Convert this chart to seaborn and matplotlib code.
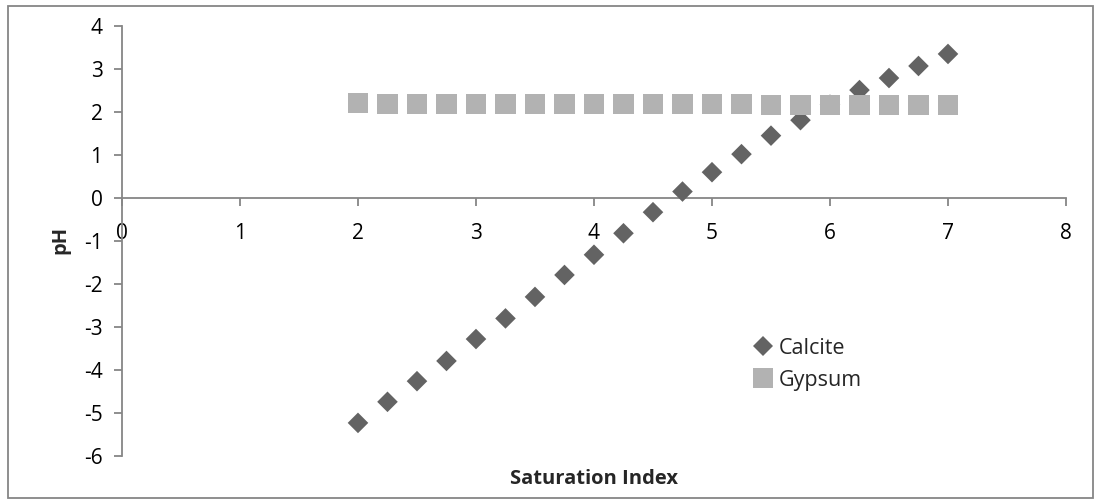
import numpy as np
import pandas as pd
import seaborn as sns
import matplotlib.pyplot as plt
from matplotlib.patches import Rectangle

# data
si = [2, 2.25, 2.5, 2.75, 3, 3.25, 3.5, 3.75, 4, 4.25, 4.5,
      4.75, 5, 5.25, 5.5, 5.75, 6, 6.25, 6.5, 6.75, 7]
calcite = [-5.23, -4.74, -4.26, -3.79, -3.28, -2.80, -2.30, -1.79, -1.32, -0.82, -0.33,
           0.15, 0.60, 1.02, 1.45, 1.81, 2.17, 2.51, 2.79, 3.07, 3.35]
gypsum = [2.21, 2.19, 2.19, 2.19, 2.19, 2.19, 2.19, 2.19, 2.19, 2.19, 2.18,
          2.18, 2.18, 2.18, 2.17, 2.17, 2.17, 2.17, 2.16, 2.16, 2.16]

xticks = [0, 1, 2, 3, 4, 5, 6, 7, 8]
yticks = [-6, -5, -4, -3, -2, -1, 0, 1, 2, 3, 4]

df = pd.DataFrame({
    'Saturation Index': si * 2,
    'pH': calcite + gypsum,
    'Mineral': ['Calcite'] * len(si) + ['Gypsum'] * len(si),
})

sns.set_style('white')
plt.rcParams['font.family'] = ['Open Sans', 'DejaVu Sans']

fig = plt.figure(figsize=(10.94, 5), dpi=100)
ax = fig.add_axes([0.1115, 0.088, 0.8629, 0.86])

sns.scatterplot(data=df, x='Saturation Index', y='pH', hue='Mineral', style='Mineral',
                markers={'Calcite': 'D', 'Gypsum': 's'},
                palette={'Calcite': '#636363', 'Gypsum': '#b2b2b2'},
                size='Mineral', sizes={'Calcite': 110, 'Gypsum': 210},
                linewidth=0, ax=ax, zorder=3)

ax.set_xlim(0, 8)
ax.set_ylim(-6, 4)
ax.set_xticks(xticks)
ax.set_yticks(yticks)
ax.set_xticklabels([str(v) for v in xticks])
ax.set_yticklabels([str(v) for v in yticks])

ax.spines['bottom'].set_position(('data', 0))
ax.spines['top'].set_visible(False)
ax.spines['right'].set_visible(False)
for s in ['bottom', 'left']:
    ax.spines[s].set_color('#868686')
    ax.spines[s].set_linewidth(1.3)
ax.tick_params(axis='both', direction='out', length=6, width=1.3, color='#868686',
               labelsize=15, labelcolor='black', bottom=True, left=True)
ax.tick_params(axis='x', pad=12)
ax.tick_params(axis='y', pad=8)

ax.set_xlabel('')
ax.set_ylabel('')
fig.text(0.543, 0.043, 'Saturation Index', ha='center', va='center',
         fontsize=14.5, fontweight='bold')
fig.text(0.055, 0.52, 'pH', ha='center', va='center', rotation=90,
         fontsize=14.5, fontweight='bold')

handles, labels = ax.get_legend_handles_labels()
ax.legend(handles[-2:] if len(handles) > 2 else handles,
          labels[-2:] if len(labels) > 2 else labels,
          loc='upper left', bbox_to_anchor=(0.66, 0.295), frameon=False,
          fontsize=15.5, handlelength=0.9, handletextpad=0.25,
          labelspacing=0.5, borderaxespad=0)

fig.patches.append(Rectangle((0.007, 0.005), 0.992, 0.983, transform=fig.transFigure,
                             fill=False, edgecolor='#868686', linewidth=1.3))

fig.savefig('out.png', dpi=100)
